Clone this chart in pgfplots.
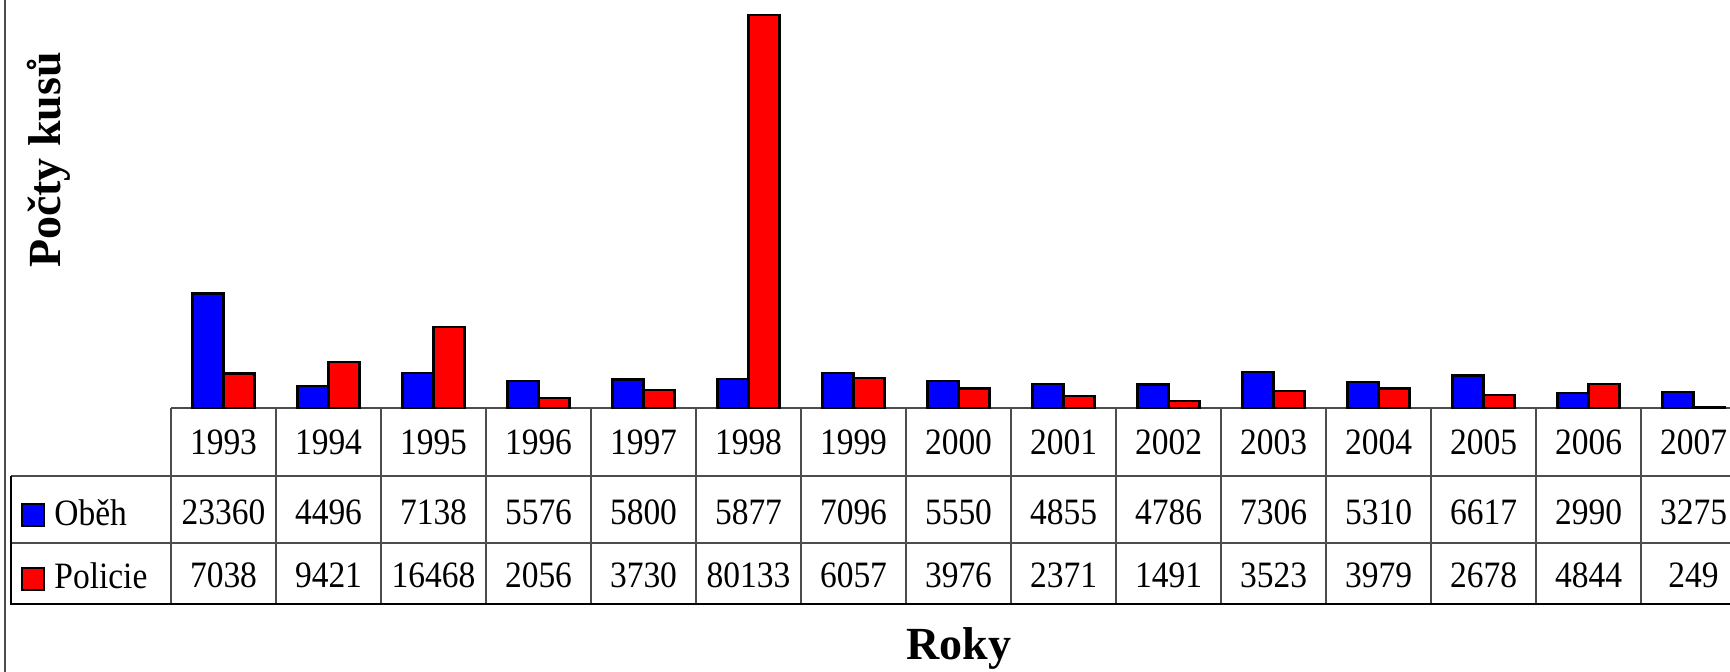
\documentclass[border=0pt]{standalone}
\usepackage{pgfplots}
\pgfplotsset{compat=1.18}
\usepackage{pgfplotstable}
\usepackage{fontspec}
\setmainfont{Liberation Serif}
\newfontfamily\condfamily[FakeStretch=0.9]{Liberation Serif}

\pgfplotstableread{
x year obeh policie
0 1993 23360 7038
1 1994 4496 9421
2 1995 7138 16468
3 1996 5576 2056
4 1997 5800 3730
5 1998 5877 80133
6 1999 7096 6057
7 2000 5550 3976
8 2001 4855 2371
9 2002 4786 1491
10 2003 7306 3523
11 2004 5310 3979
12 2005 6617 2678
13 2006 2990 4844
14 2007 3275 249
}\data

\newcommand\numfont{\condfamily\fontsize{18.6pt}{21pt}\selectfont}
\newcommand\labfont{\bfseries\fontsize{23pt}{27pt}\selectfont}

\begin{document}
\begin{tikzpicture}
\path[use as bounding box] (0,0) rectangle (865pt,-336pt);
\clip (0,0) rectangle (865pt,-336pt);
\begin{scope}[x=0.5pt,y=-0.5pt]
 \draw[gray!60!black, line width=1pt] (5,-2) -- (5,675);
 \draw[gray!60!black, line width=0.7pt] (171,408) -- (1760,408);
 \foreach \i in {0,...,15} \draw[gray!60!black, line width=0.7pt] ({171+105*\i},408) -- ({171+105*\i},604);
 \draw[gray!60!black, line width=0.7pt] (11,476) -- (1760,476);
 \draw[gray!60!black, line width=0.7pt] (11,543) -- (1760,543);
 \draw[black, line width=0.8pt] (11,476) -- (11,604) -- (1760,604);
 \foreach \i in {0,...,14} {
   \pgfplotstablegetelem{\i}{year}\of\data \let\yr\pgfplotsretval
   \pgfplotstablegetelem{\i}{obeh}\of\data \let\ob\pgfplotsretval
   \pgfplotstablegetelem{\i}{policie}\of\data \let\po\pgfplotsretval
   \node[anchor=base, inner sep=0pt, font=\numfont] at ({223.5+105*\i},455) {\yr};
   \node[anchor=base, inner sep=0pt, font=\numfont] at ({223.5+105*\i},525) {\ob};
   \node[anchor=base, inner sep=0pt, font=\numfont] at ({223.5+105*\i},588) {\po};
 }
 \draw[fill=blue, line width=1.1pt] (22,504) rectangle (44,526);
 \node[anchor=base west, inner sep=0pt, font=\numfont] at (54,526) {Oběh};
 \draw[fill=red, line width=1.1pt] (22,568) rectangle (44,590);
 \node[anchor=base west, inner sep=0pt, font=\numfont] at (54,589) {Policie};
 \node[rotate=90, anchor=base, inner sep=0pt, font=\labfont] at (60,160) {Počty kusů};
 \node[anchor=base, inner sep=0pt, font=\labfont] at (959,660) {Roky};
\end{scope}
\begin{axis}[at={(85.5pt,-204pt)}, anchor=south west, scale only axis,
  width=787.5pt, height=204pt, xmin=-0.5, xmax=14.5, ymin=0, ymax=83192,
  hide axis, ybar=0pt, bar width=15.5pt, clip=false]
\addplot[fill=blue, draw=black, line width=1.1pt] table[x=x,y=obeh]{\data};
\addplot[fill=red, draw=black, line width=1.1pt] table[x=x,y=policie]{\data};
\end{axis}
\end{tikzpicture}
\end{document}
